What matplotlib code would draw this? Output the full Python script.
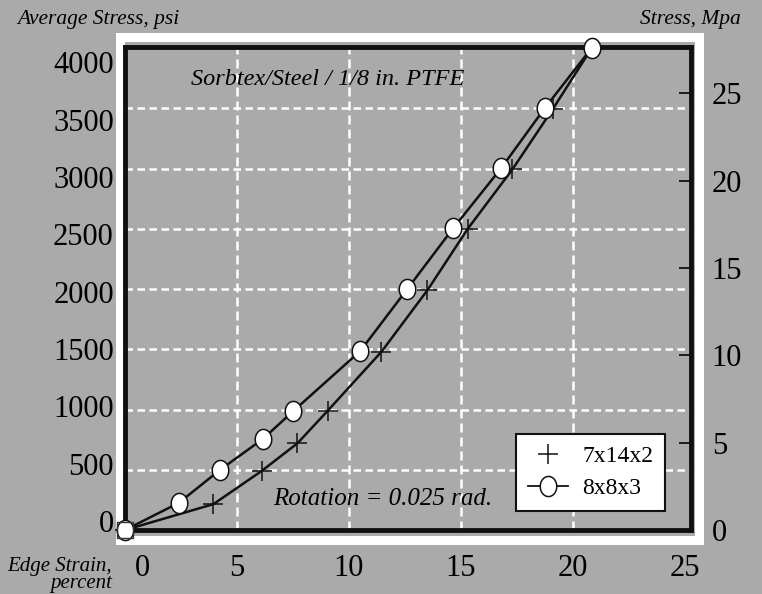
import numpy as np
import matplotlib.pyplot as plt
from matplotlib.path import Path
from matplotlib.lines import Line2D
from matplotlib.patches import Rectangle
from matplotlib.transforms import ScaledTranslation

# data (edge strain %, average stress psi)
strain_8x8x3 = [0, 2.4, 4.25, 6.15, 7.5, 10.5, 12.6, 14.65, 16.8, 18.75, 20.85]
stress_8x8x3 = [0, 225, 500, 755, 985, 1485, 2000, 2505, 3005, 3505, 4005]
strain_7x14x2 = [0, 3.95, 6.1, 7.7, 9.05, 11.45, 13.5, 15.3, 17.3, 19.1, 20.85]
stress_7x14x2 = [0, 215, 490, 720, 990, 1480, 1990, 2500, 2995, 3495, 4005]

strain_ticks = [0, 5, 10, 15, 20, 25]
psi_ticks = [0, 500, 1000, 1500, 2000, 2500, 3000, 3500, 4000]
mpa_ticks = [0, 5, 10, 15, 20, 25]
psi_per_mpa = 145.038

bg = '#aaaaaa'
serif = ['Liberation Serif', 'DejaVu Serif']
plt.rcParams['font.family'] = serif

# slightly tall ellipse for the 8x8x3 markers
t = np.linspace(0, 2 * np.pi, 60)
ellipse = Path(np.column_stack([0.82 * np.cos(t), np.sin(t)]), closed=True)

fig = plt.figure(figsize=(7.62, 5.94), dpi=100, facecolor=bg)
ax = fig.add_axes([0.164, 0.1077, 0.7428, 0.8131])
ax.set_facecolor(bg)
ax.set_xlim(0, 25.27)
ax.set_ylim(0, 4010)

# white frame around the plot box
fig.add_artist(Rectangle((0.1575, 0.0909), 0.7598, 0.8468, transform=fig.transFigure,
                         facecolor='none', edgecolor='white', lw=6.5, zorder=-1))

for s in ax.spines.values():
    s.set_linewidth(3.5)
    s.set_color('#111111')

ax.set_xticks(strain_ticks)
ax.set_yticks(psi_ticks)
ax.tick_params(axis='both', length=0, labelsize=22)
ax.tick_params(axis='x', pad=17)
ax.tick_params(axis='y', pad=8)
lbl0 = ax.get_xticklabels()[0]
lbl0.set_transform(lbl0.get_transform() + ScaledTranslation(0.17, 0, fig.dpi_scale_trans))
# the printed psi labels sit on a slightly tighter spacing than the grid
for v, lbl in zip(psi_ticks, ax.get_yticklabels()):
    tick_px = 530 - v * 0.1205
    label_px = 62 + (4000 - v) * 0.11475
    lbl.set_transform(lbl.get_transform() +
                      ScaledTranslation(0, (tick_px - label_px) / 100, fig.dpi_scale_trans))

# dashed white grid, no line at the frame
for v in strain_ticks[1:-1]:
    ax.axvline(v, color='white', lw=1.8, ls=(0, (3.6, 2.0)), zorder=1)
for v in psi_ticks[1:-1]:
    ax.axhline(v, color='white', lw=1.8, ls=(0, (3.0, 1.8)), zorder=1)

ax.plot(strain_7x14x2, stress_7x14x2, color='#111111', lw=1.8, marker='+', ms=14,
        mew=1.1, mec='#111111', clip_on=False, zorder=4)
ax.plot(strain_8x8x3, stress_8x8x3, color='#111111', lw=1.8, marker=ellipse, ms=14.5,
        mfc='white', mec='#111111', mew=1.1, clip_on=False, zorder=5)
ax.plot(strain_8x8x3[:1], stress_8x8x3[:1], ls='none', marker='s', ms=12,
        mfc='none', mec='#333333', mew=1.0, clip_on=False, zorder=6)

ax.text(0.359, 0.932, 'Sorbtex/Steel / 1/8 in. PTFE', transform=ax.transAxes,
        ha='center', va='center', fontsize=17.5, style='italic')
ax.text(0.456, 0.064, 'Rotation = 0.025 rad.', transform=ax.transAxes,
        ha='center', va='center', fontsize=18, style='italic')

fig.text(0.022, 0.968, 'Average Stress, psi', ha='left', va='center',
         fontsize=15.5, style='italic')
fig.text(0.972, 0.968, 'Stress, Mpa', ha='right', va='center',
         fontsize=15.5, style='italic')
fig.text(0.147, 0.032, 'Edge Strain,\npercent', ha='right', va='center',
         fontsize=15, style='italic', linespacing=0.8)

# right axis in MPa
ax2 = ax.twinx()
ax2.set_ylim(0, 4010 / psi_per_mpa)
ax2.set_yticks(mpa_ticks)
for s in ax2.spines.values():
    s.set_visible(False)
ax2.tick_params(axis='y', direction='in', length=9, width=1.3, color='#111111',
                labelsize=22, pad=15)

handles = [Line2D([], [], ls='none', color='#111111', marker='+', ms=14, mew=1.1),
           Line2D([], [], color='#111111', lw=1.3, marker=ellipse, ms=14.5,
                  mfc='white', mec='#111111', mew=1.1)]
leg = ax2.legend(handles, ['7x14x2', '8x8x3'], loc='lower left',
                 bbox_to_anchor=(0.691, 0.039), borderaxespad=0, fontsize=17,
                 fancybox=False, framealpha=1, edgecolor='#111111',
                 handlelength=1.7, handletextpad=0.6, borderpad=0.5,
                 labelspacing=0.45)
leg.get_frame().set_linewidth(1.5)

fig.savefig('out.png', dpi=100, facecolor=bg)
